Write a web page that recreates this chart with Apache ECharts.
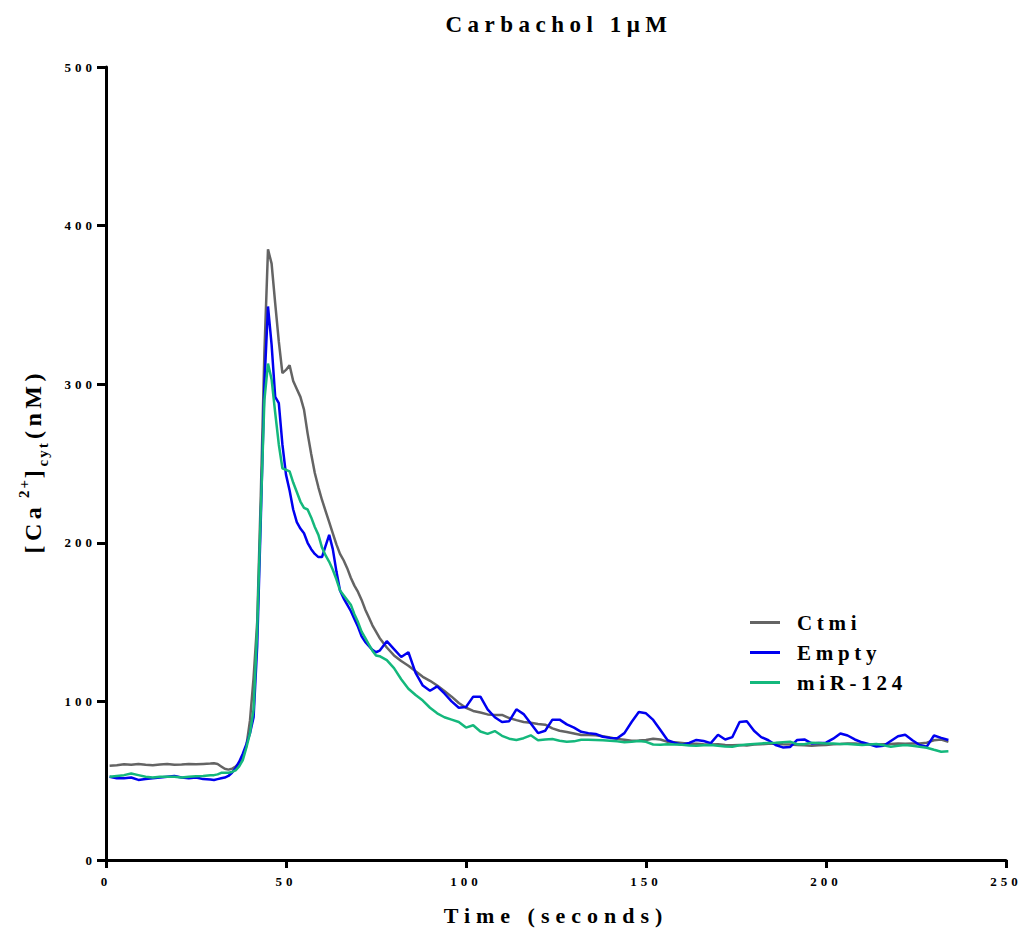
<!DOCTYPE html>
<html>
<head>
<meta charset="utf-8">
<script src="https://cdn.jsdelivr.net/npm/echarts@6/dist/echarts.min.js"></script>
<style>
  html, body { margin: 0; padding: 0; background: #fff; }
  #chart { width: 1022px; height: 931px; }
  svg text[style*="13px"] { letter-spacing: 4px; }
  svg text[style*="23px"] { letter-spacing: 5.5px; }
  svg text[style*="21px"] { letter-spacing: 4.7px; }
  svg text[style*="22px"] { letter-spacing: 6px; }
  svg text[style*="24px"] { letter-spacing: 4.5px; }
  svg text[style*="15px"] { letter-spacing: 2px; }
</style>
</head>
<body>
<div id="chart"></div>
<script>
// Time (seconds)
const time = [
  1,3,5,7,9,11,13,15,17,19,21,23,25,27,29,
  30,31,32,33,34,35,36,37,38,39,40,41,42,43,44,45,46,47,48,49,50,51,52,53,54,55,56,57,58,59,60,
  61,62,63,64,65,66,67,68,69,70,71,72,73,74,75,76,
  78,80,82,84,86,88,90,92,94,96,98,100,102,104,106,108,110,112,114,116,
  118,120,122,124,126,128,130,132,134,136,138,140,142,144,146,148,150,152,154,156,
  158,160,162,164,166,168,170,172,174,176,178,180,182,184,186,188,190,192,194,196,
  198,200,202,204,206,208,210,212,214,216,218,220,222,224,226,228,230,232,234
];

// [Ca2+]cyt (nM) — Ctmi
const ctmi = [
  59.5,59.8,60.3,60,60.5,60,59.8,60.2,60.5,60,60.2,60.5,60.3,60.6,60.8,
  61,60.5,59,57.5,57,57.5,59,61,65,72,88,115,150,230,320,385,376,351,327,307,309,312,302,297,292,284,269,256,244,235,227,
  220,213,206,199,193,189,184,178,173,169,164,158,153,148,144,140,
  134,129,125.5,122.5,119,115.5,113,110,106.5,103,99,96,94,93,91.8,91.5,91.5,89.5,88.2,87,
  86.5,85.8,85.3,83,81.5,80.7,79.8,78.8,78.8,78.6,78,77.2,76.3,75.8,75.2,75.4,75.7,76.5,76,74.5,
  74.2,73.8,73.3,73.3,73,72.8,73,72.5,72.3,72.5,72.2,72.8,73,73.3,73.5,73,72.8,72.5,72.3,72,
  72.3,72.5,73,73.2,73.5,73.5,73.2,73,72.8,73,73.2,73.5,73.3,73.5,73.5,74,75.5,76,74.5
];

// Empty
const empty = [
  52.5,51.5,51.5,52,50.5,51,51.5,52,52.5,53,52,51.5,52,51,50.8,
  50.5,51,51.5,52,53,55,58,62,67,73,80,90,135,215,300,349,325,292,288,262,243,233,221,213,209,206,200,196,193,191,191,
  198,205,196,182,170,165,161,157,152,147,141,137.5,135,132.5,131,132,
  138,133,128,131,118,110,106.7,109.5,105,100,96,96.5,103,103,95,90,87,87.5,95,92,
  86,80,81.5,88.5,88.5,85.5,83.5,80.8,80,79.5,77.7,77,76.8,80,87,93.3,92.5,88.3,82,75.5,
  73.8,72.7,73.8,75.7,75,73.7,79,76,77.5,87,87.5,81.5,77.5,75.5,72.5,71,71.2,75.7,76,73.5,
  73.8,74,76.5,79.8,78.5,76,74.2,73,71.5,72,75,78,79,75.5,72.5,71.5,78.5,77,75.7
];

// miR-124
const mir124 = [
  52.5,53,53.5,54.5,53.5,52.5,52,52.5,52.5,52.5,52,52.5,52.8,53,53.5,
  53.5,54,55,55,55,55.5,56.5,59,63,71,80,95,145,220,290,313,303,282,262,247,246,245,238,232,226,222,221,216,210,205,197,
  192,188,183,177,170,167,164,161,155,150,144,140,136,132,129,128.5,
  126,121,114,108,104,100.5,96,92.5,90,88.5,87,83.5,85,81,79.5,81.3,78.3,76.5,75.7,76.8,
  78.6,75.5,76,76.3,75.2,74.6,74.8,75.8,75.8,75.7,75.5,75.2,74.8,74.2,74.5,75,74.5,72.8,72.6,73,
  72.8,72.6,72.2,72,72.3,72.5,72,71.6,71.4,72.3,72.8,73.2,73.5,73.8,74,74.3,74.6,73,73,74,
  73.8,73.5,73.4,73.2,73.1,72.8,72.5,72.8,73.1,72.3,71.4,72,72.5,72,71.4,70.8,69.5,68.3,68.6
];

const seriesNames = ['Ctmi', 'Empty', 'miR-124'];
const seriesValues = [ctmi, empty, mir124];
const seriesColors = ['#646464', '#0000f0', '#14b87c'];

const FONT = "'Liberation Serif', 'Times New Roman', serif";

const chart = echarts.init(document.getElementById('chart'), null, { renderer: 'svg' });

const axisLineStyle = { color: '#000', width: 3 };

const option = {
  animation: false,
  backgroundColor: '#ffffff',
  title: {
    text: 'Carbachol 1μM',
    left: 554,
    top: 8,
    textAlign: 'center',
    textStyle: { fontFamily: FONT, fontWeight: 'bold', fontSize: 23, color: '#000' }
  },
  legend: {
    orient: 'vertical',
    left: 745,
    top: 607,
    itemWidth: 30,
    itemHeight: 3,
    itemGap: 9,
    icon: 'rect',
    data: seriesNames,
    textStyle: { fontFamily: FONT, fontWeight: 'bold', fontSize: 21, color: '#000', padding: [0, 0, 0, 12] }
  },
  grid: { left: 106, right: 16, top: 67, bottom: 71 },
  xAxis: {
    type: 'value',
    min: 0, max: 250, interval: 50,
    name: 'Time (seconds)',
    nameLocation: 'middle',
    nameGap: 44,
    nameTextStyle: { fontFamily: FONT, fontWeight: 'bold', fontSize: 22, color: '#000' },
    axisLine: { show: true, onZero: false, lineStyle: axisLineStyle },
    axisTick: { show: true, inside: false, length: 8, lineStyle: axisLineStyle },
    axisLabel: { margin: 15, fontFamily: FONT, fontWeight: 'bold', fontSize: 13, color: '#000' },
    splitLine: { show: false }
  },
  yAxis: {
    type: 'value',
    min: 0, max: 500, interval: 100,
    name: '{m1|[Ca}{sup|2+}{m2|]}{sub|cyt}{m3| (nM)}',
    nameLocation: 'middle',
    nameGap: 56,
    nameRotate: 90,
    nameTextStyle: {
      fontFamily: FONT, fontWeight: 'bold', fontSize: 24, color: '#000',
      rich: {
        m1: { fontFamily: FONT, fontWeight: 'bold', fontSize: 24, lineHeight: 34, padding: [0, 13.5, 0, 0] },
        sup: { fontFamily: FONT, fontWeight: 'bold', fontSize: 15, lineHeight: 15, verticalAlign: 'top', padding: [0, 4, 0, 0] },
        m2: { fontFamily: FONT, fontWeight: 'bold', fontSize: 24, lineHeight: 34, padding: [0, 4.5, 0, 0] },
        sub: { fontFamily: FONT, fontWeight: 'bold', fontSize: 15, lineHeight: 15, verticalAlign: 'bottom', padding: [0, 6, 0, 0] },
        m3: { fontFamily: FONT, fontWeight: 'bold', fontSize: 24, lineHeight: 34 }
      }
    },
    axisLine: { show: true, lineStyle: axisLineStyle },
    axisTick: { show: true, inside: false, length: 9, lineStyle: axisLineStyle },
    axisLabel: { margin: 10, fontFamily: FONT, fontWeight: 'bold', fontSize: 13, color: '#000' },
    splitLine: { show: false }
  },
  series: seriesNames.map((name, k) => ({
    name: name,
    type: 'line',
    showSymbol: false,
    symbol: 'none',
    color: seriesColors[k],
    lineStyle: { width: 2.5, color: seriesColors[k] },
    data: time.map((t, i) => [t, seriesValues[k][i]])
  }))
};

chart.setOption(option);
</script>
</body>
</html>
